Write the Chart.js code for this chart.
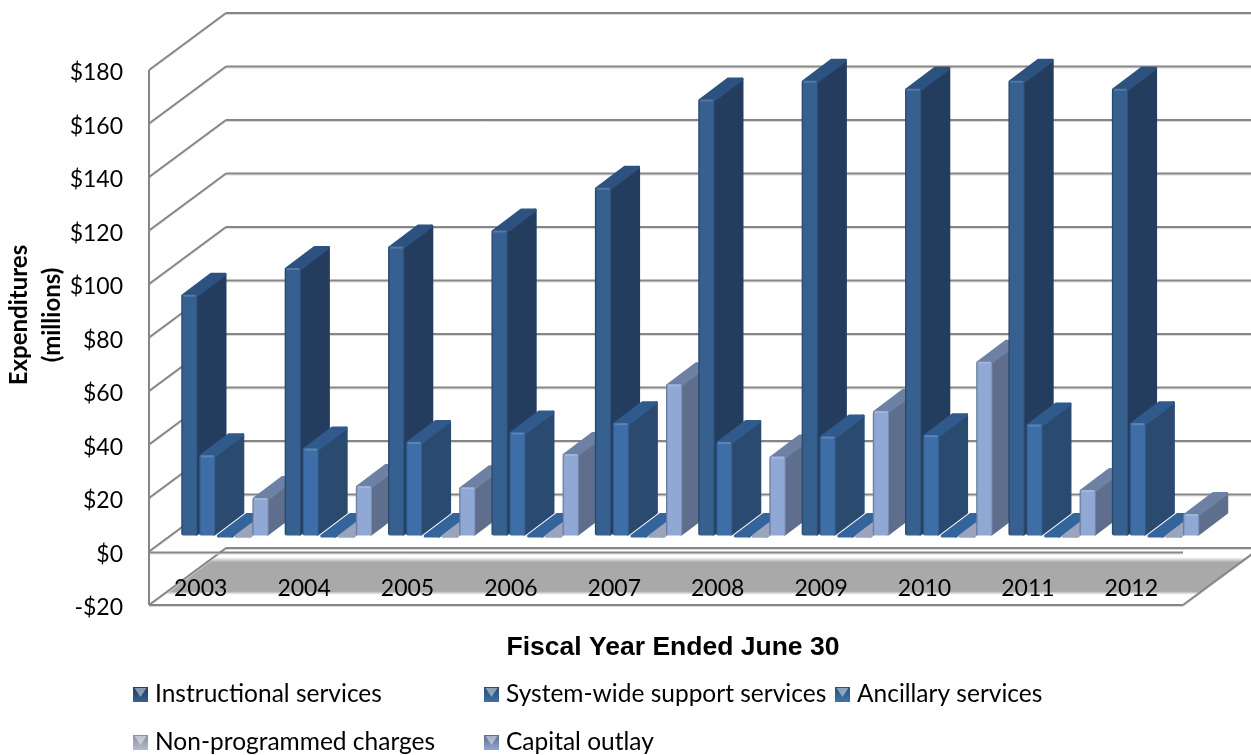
<!DOCTYPE html>
<html>
<head>
<meta charset="utf-8">
<title>Expenditures</title>
<script src="https://cdn.jsdelivr.net/npm/chart.js@4/dist/chart.umd.js"></script>
<style>
  html, body { margin: 0; background: #fff; }
  canvas { display: block; }
</style>
</head>
<body>
<canvas id="myChart" width="1251" height="755"></canvas>
<script>
const years = ['2003', '2004', '2005', '2006', '2007', '2008', '2009', '2010', '2011', '2012'];
const instructional = [90, 100, 108, 114, 130, 163, 170, 167, 170, 167];
const systemWide = [30, 32.5, 35, 38.5, 42, 35, 37, 37.5, 41.5, 42];
const ancillary = [0.2, 0.2, 0.2, 0.2, 0.2, 0.2, 0.2, 0.2, 0.2, 0.2];
const nonProgrammed = [0.1, 0.1, 0.1, 0.1, 0.1, 0.1, 0.1, 0.1, 0.1, 0.1];
const capitalOutlay = [14, 18.5, 18, 30.5, 56.5, 29.5, 46.5, 65, 17, 8];

const seriesNames = ['Instructional services', 'System-wide support services', 'Ancillary services', 'Non-programmed charges', 'Capital outlay'];
const seriesValues = [instructional, systemWide, ancillary, nonProgrammed, capitalOutlay];

// front / side / top colours per series
const frontColors = ['#35608f', '#3e6ea8', '#3f74b0', '#b4bccb', '#8fa8d4'];
const sideColors = ['#243d5f', '#2b4a70', '#2c4f78', '#8a90a0', '#5e6e8c'];
const topColors = ['#2d5280', '#30598c', '#34649c', '#9aa5bd', '#6d81a5'];

// 3D box of the chart, in px
const wallX = 77, wallY = -57;
const barShiftX = 24.5, barShiftY = -16;
const depthX = 28.5, depthY = -21.5;

function strokeLine(ctx, x1, y1, x2, y2) {
  ctx.strokeStyle = '#dcdcdc';
  ctx.lineWidth = 1;
  ctx.beginPath();
  ctx.moveTo(x1, y1 + 1.5);
  ctx.lineTo(x2, y2 + 1.5);
  ctx.stroke();
  ctx.strokeStyle = '#868686';
  ctx.lineWidth = 2;
  ctx.beginPath();
  ctx.moveTo(x1, y1);
  ctx.lineTo(x2, y2);
  ctx.stroke();
}

function fillPoly(ctx, pts, color) {
  ctx.fillStyle = color;
  ctx.strokeStyle = color;
  ctx.lineWidth = 3;
  ctx.lineJoin = 'round';
  ctx.beginPath();
  pts.forEach((p, i) => (i ? ctx.lineTo(p[0], p[1]) : ctx.moveTo(p[0], p[1])));
  ctx.closePath();
  ctx.fill();
  ctx.stroke();
}

function drawBar(ctx, left, right, top, base, s) {
  const dx = depthX, dy = depthY;
  fillPoly(ctx, [[right - 1.5, top + 1], [right - 1.5 + dx, top + 1 + dy], [right - 1.5 + dx, base + dy - 1.5], [right - 1.5, base - 1.5]], sideColors[s]);
  fillPoly(ctx, [[left + 1.5, top + 1], [left + 1.5 + dx, top + 1 + dy], [right - 1.5 + dx, top + 1 + dy], [right - 1.5, top + 1]], topColors[s]);
  if (base - top < 1) return;
  const g = ctx.createLinearGradient(left, 0, right, 0);
  g.addColorStop(0, sideColors[s]);
  g.addColorStop(0.12, frontColors[s]);
  g.addColorStop(0.88, frontColors[s]);
  g.addColorStop(1, sideColors[s]);
  ctx.fillStyle = g;
  ctx.beginPath();
  ctx.roundRect(left, top, right - left, base - top, [3, 3, 2, 2]);
  ctx.fill();
  ctx.fillStyle = 'rgba(255,255,255,0.16)';
  ctx.fillRect(left + 2, top, right - left - 4, 2);
}

function drawSwatch(ctx, x, y, s) {
  const g = ctx.createLinearGradient(0, y, 0, y + 15);
  g.addColorStop(0, sideColors[s]);
  g.addColorStop(1, frontColors[s]);
  ctx.fillStyle = g;
  ctx.fillRect(x, y, 15, 15);
  ctx.fillStyle = 'rgba(255,255,255,0.45)';
  ctx.beginPath();
  ctx.moveTo(x + 1.5, y + 1);
  ctx.lineTo(x + 13.5, y + 1);
  ctx.lineTo(x + 7.5, y + 10);
  ctx.closePath();
  ctx.fill();
}

const box3d = {
  id: 'box3d',
  beforeDraw(chart) {
    const { ctx, chartArea: area, scales: { y } } = chart;
    const left = area.left, right = area.right, bottom = area.bottom;
    ctx.save();
    // floor with the grey band
    const floor = ctx.createLinearGradient(0, bottom + wallY, 0, bottom);
    floor.addColorStop(0, '#ffffff');
    floor.addColorStop(0.16, '#ffffff');
    floor.addColorStop(0.25, '#a9a9a9');
    floor.addColorStop(0.76, '#a9a9a9');
    floor.addColorStop(0.82, '#ffffff');
    floor.addColorStop(1, '#ffffff');
    ctx.fillStyle = floor;
    ctx.beginPath();
    ctx.moveTo(left, bottom);
    ctx.lineTo(left + wallX, bottom + wallY);
    ctx.lineTo(right + wallX, bottom + wallY);
    ctx.lineTo(right, bottom);
    ctx.closePath();
    ctx.fill();
    // walls
    y.ticks.forEach(t => {
      const py = y.getPixelForValue(t.value);
      strokeLine(ctx, left + wallX, py + wallY, right + wallX, py + wallY);
      strokeLine(ctx, left, py, left + wallX, py + wallY);
    });
    strokeLine(ctx, left, y.getPixelForValue(0) + 1, right, y.getPixelForValue(0) + 1);
    strokeLine(ctx, right, bottom, right + wallX, bottom + wallY);
    strokeLine(ctx, left, bottom, right, bottom);
    ctx.strokeStyle = '#868686';
    ctx.lineWidth = 2;
    ctx.beginPath();
    ctx.moveTo(left, area.top);
    ctx.lineTo(left, bottom);
    ctx.stroke();
    ctx.restore();
  },
  beforeDatasetsDraw(chart) {
    const { ctx } = chart;
    ctx.save();
    ctx.translate(barShiftX, barShiftY);
    years.forEach((yr, c) => {
      seriesValues.forEach((vals, s) => {
        const bar = chart.getDatasetMeta(s).data[c];
        const half = bar.width / 2;
        drawBar(ctx, bar.x - half, bar.x + half, bar.y, bar.base, s);
      });
    });
    ctx.restore();
    return false;
  },
  afterDraw(chart) {
    const { ctx } = chart;
    ctx.save();
    ctx.fillStyle = '#000';
    ctx.textAlign = 'center';
    ctx.textBaseline = 'middle';
    ctx.font = 'bold 26.5px "Liberation Sans"';
    ctx.fillText('Fiscal Year Ended June 30', 673, 648);
    // axis title sits above the middle of the axis, so it is placed by hand
    ctx.save();
    ctx.translate(19, 315);
    ctx.rotate(-Math.PI / 2);
    ctx.font = 'bold 24px Lato';
    ctx.fillText('Expenditures', 0, 0);
    ctx.fillText('(millions)', 0, 33);
    ctx.restore();
    // legend on a fixed grid
    const colX = [133, 484, 835, 133, 484];
    const rowY = [694, 694, 694, 742, 742];
    ctx.font = '24.5px Lato';
    ctx.textAlign = 'left';
    seriesNames.forEach((name, s) => {
      const x = colX[s], y = rowY[s];
      drawSwatch(ctx, x, y - 7, s);
      ctx.fillStyle = '#000';
      ctx.fillText(name, x + 22, y);
    });
    ctx.restore();
  }
};

new Chart(document.getElementById('myChart'), {
  type: 'bar',
  data: {
    labels: years,
    datasets: seriesNames.map((name, s) => ({
      label: name,
      data: seriesValues[s],
      backgroundColor: frontColors[s],
      categoryPercentage: 0.86,
      barPercentage: 0.94
    }))
  },
  options: {
    responsive: false,
    animation: false,
    devicePixelRatio: 1,
    layout: { padding: { left: 0, top: 70, right: 68, bottom: 0 } },
    plugins: { legend: { display: false }, tooltip: { enabled: false } },
    scales: {
      x: {
        grid: { display: false },
        border: { display: false },
        ticks: { color: '#000', font: { family: 'Lato', size: 23 }, mirror: true, padding: 3, maxRotation: 0, autoSkip: false },
        afterFit: s => { s.height = 150; }
      },
      y: {
        min: -20,
        max: 180,
        grid: { display: false, drawTicks: false },
        border: { display: false },
        ticks: {
          stepSize: 20,
          color: '#000',
          padding: 26,
          labelOffset: 3,
          font: { family: 'Lato', size: 23 },
          callback: v => (v < 0 ? '-$' + Math.abs(v) : '$' + v)
        },
        afterFit: s => { s.width = 149; }
      }
    }
  },
  plugins: [box3d]
});
</script>
</body>
</html>
